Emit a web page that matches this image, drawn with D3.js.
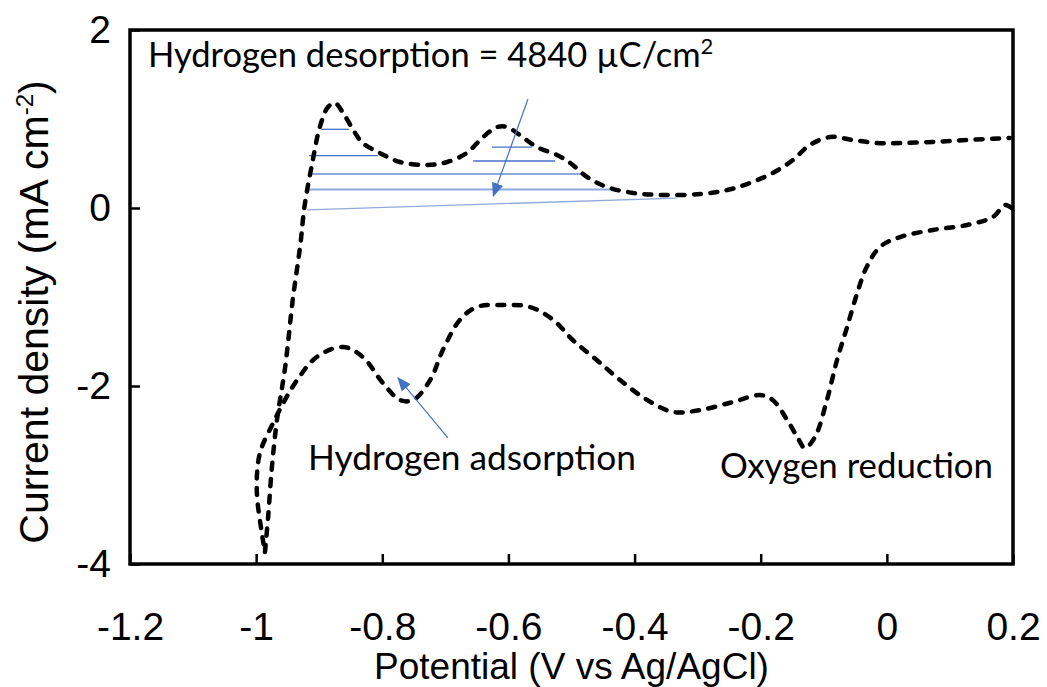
<!DOCTYPE html>
<html>
<head>
<meta charset="utf-8">
<script src="https://cdn.jsdelivr.net/npm/d3@7"></script>
<style>
body { margin: 0; background: #fff; }
</style>
</head>
<body>
<script>
const width = 1047
const height = 687

// anodic sweep (upper curve)
const anodicE = [-0.986, -0.981, -0.975, -0.967, -0.954, -0.942, -0.930, -0.923, -0.911, -0.899, -0.886, -0.875,
    -0.862, -0.846, -0.831, -0.804, -0.772, -0.729, -0.697, -0.666, -0.640, -0.618, -0.602, -0.582, -0.555,
    -0.523, -0.502, -0.475, -0.444, -0.402, -0.355, -0.296, -0.253, -0.217, -0.181, -0.149, -0.122, -0.090,
    -0.054, -0.016, 0.021, 0.073, 0.127, 0.195]
const anodicI = [-3.865, -3.472, -2.910, -2.382, -1.787, -1.034, -0.416, 0.034, 0.506, 0.910, 1.135, 1.180,
    1.067, 0.876, 0.730, 0.618, 0.517, 0.483, 0.517, 0.618, 0.798, 0.910, 0.910, 0.820, 0.685,
    0.596, 0.506, 0.348, 0.236, 0.169, 0.146, 0.157, 0.202, 0.281, 0.393, 0.539, 0.708, 0.798,
    0.764, 0.730, 0.730, 0.742, 0.764, 0.787]

// cathodic sweep (lower curve), from 0.2 V back to -1 V
const cathodicE = [0.198, 0.187, 0.168, 0.127, 0.073, 0.021, -0.011, -0.032, -0.047, -0.063, -0.079, -0.095,
    -0.114, -0.130, -0.142, -0.158, -0.181, -0.201, -0.244, -0.296, -0.339, -0.380, -0.423, -0.460,
    -0.498, -0.529, -0.566, -0.609, -0.650, -0.677, -0.704, -0.724, -0.751, -0.772, -0.799, -0.831,
    -0.862, -0.904, -0.935, -0.957, -0.973, -0.994, -0.999, -0.991, -0.986]
const cathodicI = [0.000, 0.034, -0.101, -0.191, -0.247, -0.326, -0.438, -0.663, -0.955, -1.337, -1.708, -2.157,
    -2.573, -2.697, -2.573, -2.382, -2.157, -2.101, -2.180, -2.270, -2.292, -2.157, -1.933, -1.708,
    -1.483, -1.258, -1.112, -1.090, -1.112, -1.258, -1.596, -1.933, -2.157, -2.157, -1.966, -1.674,
    -1.562, -1.674, -1.933, -2.191, -2.416, -2.753, -3.169, -3.652, -3.865]

// hatch lines under the desorption peaks
const hatchStartE = [-0.897, -0.916, -0.626, -0.656, -0.915, -0.916, -0.919]
const hatchStartI = [0.884, 0.588, 0.685, 0.528, 0.382, 0.208, -0.022]
const hatchEndE = [-0.853, -0.807, -0.563, -0.526, -0.483, -0.428, -0.333]
const hatchEndI = [0.884, 0.588, 0.685, 0.528, 0.382, 0.208, 0.112]

const xTicks = [-1.2, -1, -0.8, -0.6, -0.4, -0.2, 0, 0.2]
const xTickLabels = ["-1.2", "-1", "-0.8", "-0.6", "-0.4", "-0.2", "0", "0.2"]
const yTicks = [-4, -2, 0, 2]
const yTickLabels = ["-4", "-2", "0", "2"]

const svg = d3.select("body").append("svg")
    .attr("width", width)
    .attr("height", height)
    .style("background", "#fff");

const x = d3.scaleLinear().domain([-1.2, 0.2]).range([130, 1013]);
const y = d3.scaleLinear().domain([-4, 2]).range([564, 30]);

const axisFont = "'Liberation Sans', Arial, sans-serif";
const noteFont = "Lato, 'Open Sans', sans-serif";

// x axis, ticks pointing into the plot
const gx = svg.append("g")
    .attr("transform", `translate(0,${y(-4)})`)
    .call(d3.axisBottom(x).tickValues(xTicks)
        .tickFormat((d, i) => xTickLabels[i])
        .tickSizeInner(-10).tickSizeOuter(0).tickPadding(48));
gx.select(".domain").remove();
gx.selectAll("line").attr("stroke", "#000").attr("stroke-width", 2.5);
gx.selectAll("text").style("font-family", axisFont).style("font-size", "39px").attr("fill", "#000");

const gy = svg.append("g")
    .attr("transform", `translate(${x(-1.2)},0)`)
    .call(d3.axisLeft(y).tickValues(yTicks)
        .tickFormat((d, i) => yTickLabels[i])
        .tickSizeInner(-10).tickSizeOuter(0).tickPadding(19));
gy.select(".domain").remove();
gy.selectAll("line").attr("stroke", "#000").attr("stroke-width", 2.5);
gy.selectAll("text").style("font-family", axisFont).style("font-size", "39px").attr("fill", "#000");

// plot frame
svg.append("rect")
    .attr("x", x(-1.2)).attr("y", y(2))
    .attr("width", x(0.2) - x(-1.2)).attr("height", y(-4) - y(2))
    .attr("fill", "none").attr("stroke", "#000").attr("stroke-width", 3.5);

// hatch lines
const hatch = d3.range(hatchStartE.length);
svg.selectAll(".hatch")
    .data(hatch)
    .enter()
    .append("line")
    .attr("class", "hatch")
    .attr("x1", i => x(hatchStartE[i]))
    .attr("y1", i => y(hatchStartI[i]))
    .attr("x2", i => x(hatchEndE[i]))
    .attr("y2", i => y(hatchEndI[i]))
    .attr("stroke", i => i < 4 ? "#4472C4" : "#8EA9DB")
    .attr("stroke-width", i => (i == 4 || i == 5) ? 2 : 1.3);

// the CV curves
const line = d3.line()
    .x(d => x(d[0]))
    .y(d => y(d[1]))
    .curve(d3.curveCatmullRom.alpha(0.5));

const anodic = anodicE.map((e, i) => [e, anodicI[i]]);
const cathodic = cathodicE.map((e, i) => [e, cathodicI[i]]);

[anodic, cathodic].forEach(pts => {
    svg.append("path")
        .datum(pts)
        .attr("d", line)
        .attr("fill", "none")
        .attr("stroke", "#000")
        .attr("stroke-width", 4.5)
        .attr("stroke-linecap", "round")
        .attr("stroke-dasharray", "7,9.5");
});

// arrows
svg.append("defs").append("marker")
    .attr("id", "head")
    .attr("markerUnits", "userSpaceOnUse")
    .attr("viewBox", "0 0 12 10")
    .attr("refX", 11).attr("refY", 5)
    .attr("markerWidth", 14).attr("markerHeight", 12)
    .attr("orient", "auto")
    .append("path")
    .attr("d", "M0,0 L12,5 L0,10 Z")
    .attr("fill", "#4472C4");

const arrowFromE = [-0.569, -0.696]
const arrowFromI = [1.225, -2.584]
const arrowToE = [-0.624, -0.775]
const arrowToI = [0.135, -1.910]

svg.selectAll(".arrow")
    .data(d3.range(arrowFromE.length))
    .enter()
    .append("line")
    .attr("class", "arrow")
    .attr("x1", i => x(arrowFromE[i]))
    .attr("y1", i => y(arrowFromI[i]))
    .attr("x2", i => x(arrowToE[i]))
    .attr("y2", i => y(arrowToI[i]))
    .attr("stroke", "#4472C4")
    .attr("stroke-width", 1.2)
    .attr("marker-end", "url(#head)");

// annotations
const note1 = svg.append("text")
    .attr("x", 148).attr("y", 67)
    .style("font-family", noteFont).style("font-size", "34.5px").attr("fill", "#000");
note1.append("tspan").text("Hydrogen desorption = 4840 µC/cm");
note1.append("tspan").attr("dy", -13).style("font-size", "22px").text("2");

svg.append("text")
    .attr("x", 308).attr("y", 470)
    .attr("textLength", 328).attr("lengthAdjust", "spacingAndGlyphs")
    .style("font-family", noteFont).style("font-size", "34px").attr("fill", "#000")
    .text("Hydrogen adsorption");

svg.append("text")
    .attr("x", 720).attr("y", 478)
    .attr("textLength", 273).attr("lengthAdjust", "spacingAndGlyphs")
    .style("font-family", noteFont).style("font-size", "34px").attr("fill", "#000")
    .text("Oxygen reduction");

// axis titles
svg.append("text")
    .attr("x", (x(-1.2) + x(0.2)) / 2).attr("y", 679)
    .attr("text-anchor", "middle")
    .style("font-family", axisFont).style("font-size", "37px").attr("fill", "#000")
    .text("Potential (V vs Ag/AgCl)");

const ytitle = svg.append("text")
    .attr("transform", "translate(48,312) rotate(-90)")
    .attr("text-anchor", "middle")
    .style("font-family", axisFont).style("font-size", "41px").attr("fill", "#000");
ytitle.append("tspan").text("Current density (mA cm");
ytitle.append("tspan").attr("dy", -15).style("font-size", "24px").text("-2");
ytitle.append("tspan").attr("dy", 15).text(")");
</script>
</body>
</html>
